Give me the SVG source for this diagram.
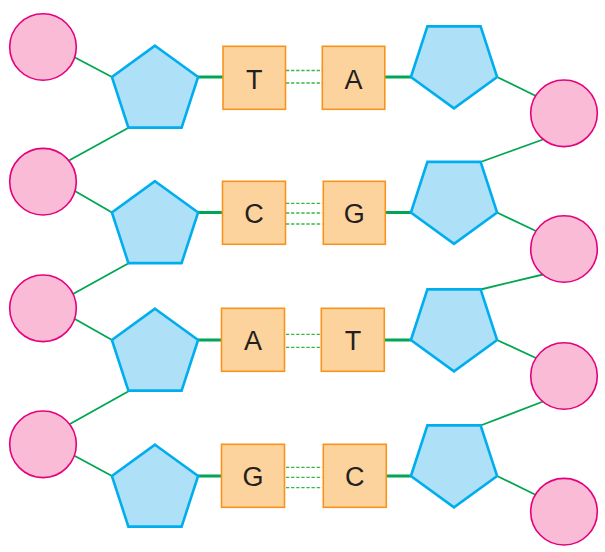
<svg xmlns="http://www.w3.org/2000/svg" width="605" height="552" viewBox="0 0 605 552">
<style>
.ph{fill:#f9bbd5;stroke:#e6007e;stroke-width:1.6}
.su{fill:#aee0f8;stroke:#00aeef;stroke-width:2.6;stroke-linejoin:miter}
.bx{fill:#fdd39d;stroke:#f7941d;stroke-width:1.6}
.lb{font-family:"Liberation Sans",Arial,sans-serif;font-size:27px;fill:#231f20;text-anchor:middle}
.bb{stroke:#00a651;stroke-width:1.8;fill:none}
.gb{stroke:#00a651;stroke-width:3;fill:none}
.hb{stroke:#39b54a;stroke-width:1.3;stroke-dasharray:3.3 1.8;fill:none}
</style>
<defs>
<polygon id="pu" points="0,-31.3 43.1,0 26.6,50.6 -26.6,50.6 -43.1,0"/>
<polygon id="pd" points="-26.6,-50.6 26.6,-50.6 43.1,0 0,31.3 -43.1,0"/>
</defs>
<g id="connectors">
<line class="bb" x1="74" y1="57" x2="112" y2="77"/>
<line class="bb" x1="129" y1="127.5" x2="69" y2="160.5"/>
<line class="bb" x1="74" y1="190.5" x2="112" y2="212.5"/>
<line class="bb" x1="129" y1="263" x2="73" y2="294"/>
<line class="bb" x1="74" y1="318.5" x2="112" y2="340"/>
<line class="bb" x1="129" y1="391" x2="69" y2="424.5"/>
<line class="bb" x1="74" y1="455.5" x2="112" y2="476"/>
<line class="bb" x1="497" y1="77" x2="537" y2="96.5"/>
<line class="bb" x1="543" y1="139.5" x2="480.6" y2="162"/>
<line class="bb" x1="497" y1="212.5" x2="537" y2="231.5"/>
<line class="bb" x1="543" y1="274.5" x2="480.6" y2="289.5"/>
<line class="bb" x1="497" y1="340" x2="537" y2="358.5"/>
<line class="bb" x1="543" y1="401.5" x2="480.6" y2="425.5"/>
<line class="bb" x1="497" y1="476" x2="537" y2="495.5"/>
<line class="gb" x1="198" y1="77" x2="223" y2="77"/>
<line class="gb" x1="385" y1="77" x2="411" y2="77"/>
<line class="gb" x1="198" y1="212.5" x2="223" y2="212.5"/>
<line class="gb" x1="385" y1="212.5" x2="411" y2="212.5"/>
<line class="gb" x1="198" y1="340" x2="223" y2="340"/>
<line class="gb" x1="385" y1="340" x2="411" y2="340"/>
<line class="gb" x1="198" y1="476" x2="223" y2="476"/>
<line class="gb" x1="385" y1="476" x2="411" y2="476"/>
<line class="hb" x1="286" y1="70.5" x2="322" y2="70.5"/>
<line class="hb" x1="286" y1="83" x2="322" y2="83"/>
<line class="hb" x1="286" y1="203.3" x2="322" y2="203.3"/>
<line class="hb" x1="286" y1="213" x2="322" y2="213"/>
<line class="hb" x1="286" y1="224" x2="322" y2="224"/>
<line class="hb" x1="286" y1="334.3" x2="322" y2="334.3"/>
<line class="hb" x1="286" y1="347.3" x2="322" y2="347.3"/>
<line class="hb" x1="286" y1="467.3" x2="322" y2="467.3"/>
<line class="hb" x1="286" y1="477.3" x2="322" y2="477.3"/>
<line class="hb" x1="286" y1="487.7" x2="322" y2="487.7"/>
</g>
<g id="phosphate-l1"><circle class="ph" cx="43" cy="47" r="33.3"/></g>
<g id="phosphate-l2"><circle class="ph" cx="43" cy="181.7" r="33.3"/></g>
<g id="phosphate-l3"><circle class="ph" cx="43" cy="308.3" r="33.3"/></g>
<g id="phosphate-l4"><circle class="ph" cx="43" cy="444.3" r="33.3"/></g>
<g id="phosphate-r1"><circle class="ph" cx="564" cy="113.3" r="33.3"/></g>
<g id="phosphate-r2"><circle class="ph" cx="564" cy="249" r="33.3"/></g>
<g id="phosphate-r3"><circle class="ph" cx="564" cy="376" r="33.3"/></g>
<g id="phosphate-r4"><circle class="ph" cx="564" cy="511.7" r="33.3"/></g>
<g id="sugar-l1"><use href="#pu" class="su" x="155" y="77"/></g>
<g id="sugar-l2"><use href="#pu" class="su" x="155" y="212.5"/></g>
<g id="sugar-l3"><use href="#pu" class="su" x="155" y="340"/></g>
<g id="sugar-l4"><use href="#pu" class="su" x="155" y="476"/></g>
<g id="sugar-r1"><use href="#pd" class="su" x="454" y="77"/></g>
<g id="sugar-r2"><use href="#pd" class="su" x="454" y="212.5"/></g>
<g id="sugar-r3"><use href="#pd" class="su" x="454" y="340"/></g>
<g id="sugar-r4"><use href="#pd" class="su" x="454" y="476"/></g>
<g id="base-l1"><rect class="bx" x="223" y="46.3" width="62.5" height="63"/><text class="lb" x="254.3" y="89.3">T</text></g>
<g id="base-l2"><rect class="bx" x="222.5" y="181.3" width="63" height="63"/><text class="lb" x="254" y="222.5">C</text></g>
<g id="base-l3"><rect class="bx" x="221.5" y="308.3" width="63" height="63"/><text class="lb" x="253" y="349.5">A</text></g>
<g id="base-l4"><rect class="bx" x="221.5" y="444.3" width="63" height="63"/><text class="lb" x="253" y="485.5">G</text></g>
<g id="base-r1"><rect class="bx" x="322.3" y="46.3" width="62.5" height="63"/><text class="lb" x="353.5" y="88.5">A</text></g>
<g id="base-r2"><rect class="bx" x="323.3" y="181.3" width="62" height="63"/><text class="lb" x="354.3" y="222.5">G</text></g>
<g id="base-r3"><rect class="bx" x="321.3" y="308.3" width="63" height="63"/><text class="lb" x="353" y="349.5">T</text></g>
<g id="base-r4"><rect class="bx" x="323.3" y="444.3" width="63" height="63"/><text class="lb" x="354.8" y="485.5">C</text></g>
</svg>
